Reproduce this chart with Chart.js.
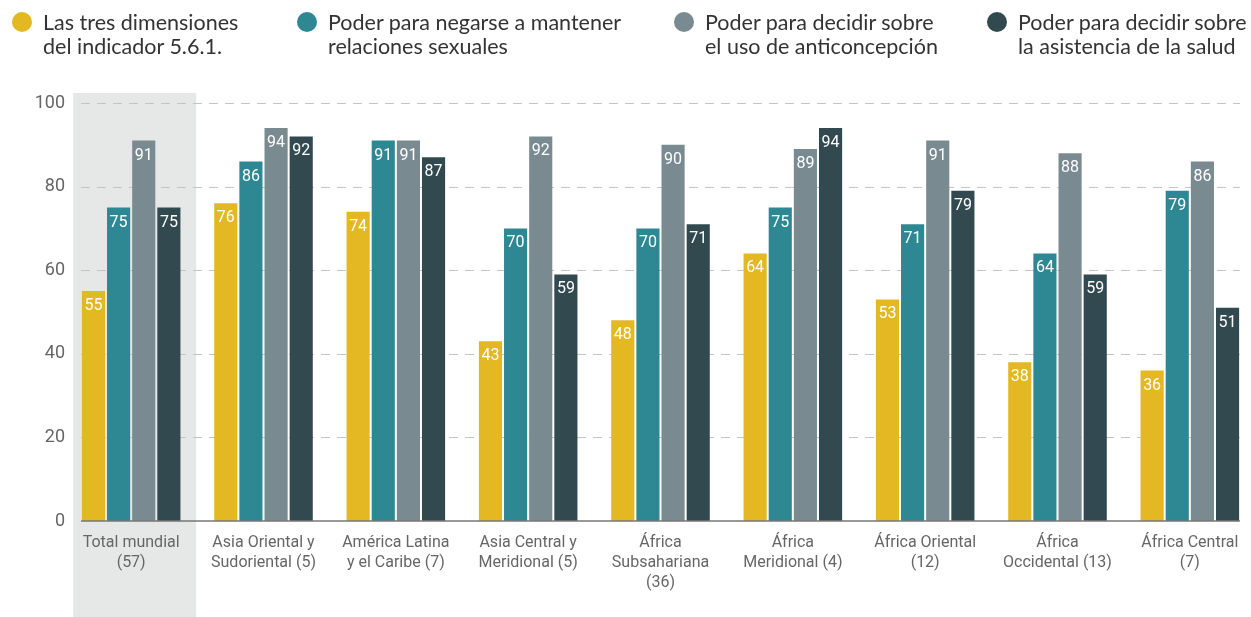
<!DOCTYPE html>
<html lang="es">
<head>
<meta charset="UTF-8">
<title>Indicador 5.6.1</title>
<script src="https://cdn.jsdelivr.net/npm/chart.js"></script>
<style>
    body {
        margin: 0;
        padding: 0;
        background: #fff;
        overflow: hidden;
        width: 1251px;
        height: 617px;
        position: relative;
    }
    .chart-box {
        position: absolute;
        left: 0;
        top: 0;
        width: 1256px;
        height: 617px;
    }
    .legend-item {
        position: absolute;
        top: 10px;
        font-family: Lato, "Open Sans", sans-serif;
        font-size: 21.5px;
        line-height: 24px;
        color: #333;
        white-space: nowrap;
    }
    .legend-item .dot {
        position: absolute;
        left: -31px;
        top: 2px;
        width: 20px;
        height: 20px;
        border-radius: 50%;
    }
</style>
</head>
<body>
<div class="chart-box"><canvas id="chart"></canvas></div>
<div id="legend"></div>

<script>
    // categorias y valores (%)
    const regions = [
        ['Total mundial', '(57)'],
        ['Asia Oriental y', 'Sudoriental (5)'],
        ['América Latina', 'y el Caribe (7)'],
        ['Asia Central y', 'Meridional (5)'],
        ['África', 'Subsahariana', '(36)'],
        ['África', 'Meridional (4)'],
        ['África Oriental', '(12)'],
        ['África', 'Occidental (13)'],
        ['África Central', '(7)']
    ];
    const tresDimensiones = [55, 76, 74, 43, 48, 64, 53, 38, 36];
    const negarseRelaciones = [75, 86, 91, 70, 70, 75, 71, 64, 79];
    const anticoncepcion = [91, 94, 91, 92, 90, 89, 91, 88, 86];
    const asistenciaSalud = [75, 92, 87, 59, 71, 94, 79, 59, 51];

    const seriesNames = [
        ['Las tres dimensiones', 'del indicador 5.6.1.'],
        ['Poder para negarse a mantener', 'relaciones sexuales'],
        ['Poder para decidir sobre', 'el uso de anticoncepción'],
        ['Poder para decidir sobre', 'la asistencia de la salud']
    ];
    const colors = ['#E3B823', '#2E8893', '#798A91', '#324950'];
    const legendX = [43, 328, 705, 1018];

    // Leyenda en HTML
    const legendEl = document.getElementById('legend');
    seriesNames.forEach((name, i) => {
        const item = document.createElement('div');
        item.className = 'legend-item';
        item.style.left = legendX[i] + 'px';
        item.innerHTML = '<span class="dot" style="background:' + colors[i] + '"></span>' + name.join('<br>');
        legendEl.appendChild(item);
    });

    // fondo gris, cuadrícula y eje
    const decorPlugin = {
        id: 'decor',
        beforeDraw(chart) {
            // caja gris de "Total mundial"
            const ctx = chart.ctx;
            const x = chart.scales.x;
            const y = chart.scales.y;
            const cx = x.getPixelForValue(0);
            ctx.save();
            ctx.fillStyle = '#E6E8E8';
            ctx.fillRect(cx - 58, y.getPixelForValue(100) - 10, 123, chart.height);
            ctx.restore();
        },
        beforeDatasetsDraw(chart) {
            const ctx = chart.ctx;
            const y = chart.scales.y;
            const area = chart.chartArea;
            const left = area.left + 16;
            const right = area.right - 16;

            ctx.save();
            // líneas de cuadrícula punteadas
            ctx.strokeStyle = '#C4C4C4';
            ctx.lineWidth = 1.2;
            ctx.setLineDash([9, 7]);
            y.ticks.forEach(t => {
                if (t.value === 0) return;
                const py = Math.round(y.getPixelForValue(t.value)) + 0.5;
                ctx.beginPath();
                ctx.moveTo(left, py);
                ctx.lineTo(right, py);
                ctx.stroke();
            });
            ctx.restore();
        },
        afterDatasetsDraw(chart) {
            const ctx = chart.ctx;
            const y = chart.scales.y;
            const area = chart.chartArea;
            ctx.save();
            // línea del eje x
            ctx.strokeStyle = '#777';
            ctx.lineWidth = 1.5;
            const py = y.getPixelForValue(0);
            ctx.beginPath();
            ctx.moveTo(area.left + 16, py);
            ctx.lineTo(area.right - 16, py);
            ctx.stroke();

            // etiquetas de valor dentro de las barras
            ctx.fillStyle = '#fff';
            ctx.font = '16px Roboto, sans-serif';
            ctx.textAlign = 'center';
            ctx.textBaseline = 'middle';
            chart.data.datasets.forEach((ds, i) => {
                chart.getDatasetMeta(i).data.forEach((bar, j) => {
                    ctx.fillText(ds.data[j], bar.x, bar.y + 15);
                });
            });
            ctx.restore();
        }
    };

    new Chart(document.getElementById('chart'), {
        type: 'bar',
        data: {
            labels: regions,
            datasets: [
                { label: seriesNames[0].join(' '), data: tresDimensiones, backgroundColor: colors[0] },
                { label: seriesNames[1].join(' '), data: negarseRelaciones, backgroundColor: colors[1] },
                { label: seriesNames[2].join(' '), data: anticoncepcion, backgroundColor: colors[2] },
                { label: seriesNames[3].join(' '), data: asistenciaSalud, backgroundColor: colors[3] }
            ]
        },
        options: {
            responsive: true,
            maintainAspectRatio: false,
            animation: false,
            categoryPercentage: 0.76,
            barPercentage: 0.92,
            layout: { padding: { top: 103, left: 0, right: 0, bottom: 0 } },
            plugins: {
                legend: { display: false },
                tooltip: { enabled: false }
            },
            scales: {
                x: {
                    grid: { display: false, drawTicks: false },
                    border: { display: false },
                    ticks: {
                        color: '#666',
                        font: { family: 'Roboto', size: 16, lineHeight: 1.25 },
                        padding: 12,
                        autoSkip: false,
                        maxRotation: 0
                    },
                    afterFit(scale) { scale.height = 96; }
                },
                y: {
                    min: 0,
                    max: 100,
                    grid: { display: false, drawTicks: false },
                    border: { display: false },
                    ticks: {
                        stepSize: 20,
                        color: '#666',
                        font: { family: 'Roboto', size: 18 },
                        padding: 0
                    },
                    afterFit(scale) { scale.width = 65; }
                }
            }
        },
        plugins: [decorPlugin]
    });
</script>
</body>
</html>
